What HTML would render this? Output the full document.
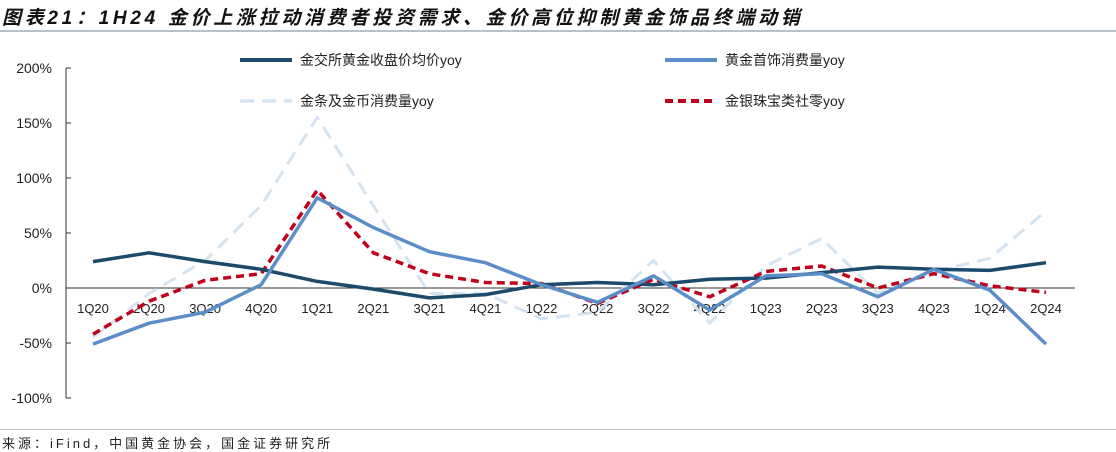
<!DOCTYPE html>
<html><head><meta charset="utf-8"><style>
body{margin:0;background:#fff;width:1116px;height:451px;overflow:hidden;font-family:"Liberation Sans","Noto Sans CJK SC",sans-serif;}
#title{position:absolute;left:2px;top:3px;font-size:19px;letter-spacing:3.7px;font-weight:bold;font-style:italic;color:#111;white-space:nowrap;}
#src{position:absolute;left:2px;top:433px;font-size:13px;color:#222;letter-spacing:3px;}
.hr{position:absolute;left:0;width:1116px;height:2px;background:#b8c0c8;}
</style></head><body>
<div id="title">图表21：1H24 金价上涨拉动消费者投资需求、金价高位抑制黄金饰品终端动销</div>
<div class="hr" style="top:30px"></div>
<div class="hr" style="top:429px;height:1px"></div>
<div id="src">来源：iFind，中国黄金协会，国金证券研究所</div>
<svg id="chart" width="1116" height="451" style="position:absolute;left:0;top:0"></svg>
<script>
const categories=["1Q20","2Q20","3Q20","4Q20","1Q21","2Q21","3Q21","4Q21","1Q22","2Q22","3Q22","4Q22","1Q23","2Q23","3Q23","4Q23","1Q24","2Q24"];
const sgeYoy=[24,32,24,17,6,-1,-9,-6,3,5,3,8,9,14,19,17,16,23];
const jewelryYoy=[-51,-32,-22,3,82,55,33,23,3,-13,11,-20,11,13,-8,17,-2,-51];
const barCoinYoy=[-45,-5,25,75,155,75,-5,-5,-28,-22,25,-32,20,45,-5,15,27,70];
const retailYoy=[-42,-12,7,13,89,32,13,5,4,-14,8,-8,15,20,0,13,2,-4];
const yTicks=[200,150,100,50,0,-50,-100];
const series=[
 {name:"金交所黄金收盘价均价yoy",data:sgeYoy,color:"#1d4a6b",dash:"",w:3.5,lx:240,ly:60,id:"sge"},
 {name:"黄金首饰消费量yoy",data:jewelryYoy,color:"#5b8ec8",dash:"",w:3.5,lx:665,ly:60,id:"jewelry"},
 {name:"金条及金币消费量yoy",data:barCoinYoy,color:"#d5e3f0",dash:"14,8",w:3,lx:240,ly:101,id:"barcoin"},
 {name:"金银珠宝类社零yoy",data:retailYoy,color:"#c0001a",dash:"8,5",w:3.5,lx:665,ly:101,id:"retail"}];
const svg=document.getElementById('chart');const NS="http://www.w3.org/2000/svg";
const X0=93,DX=(1046-93)/17;const x=i=>X0+i*DX;const y=v=>288-v*1.1;
function mk(t,a,p){const e=document.createElementNS(NS,t);for(const k in a)e.setAttribute(k,a[k]);(p||svg).appendChild(e);return e;}
const ax=mk('line',{x1:66,y1:y(200),x2:66,y2:y(-100),stroke:'#333','stroke-width':1});

yTicks.forEach(v=>{mk('line',{x1:66,y1:y(v),x2:71,y2:y(v),stroke:'#333'});
 const t=mk('text',{x:52,y:y(v)+5,'text-anchor':'end','font-size':14,fill:'#222'});t.textContent=v+'%';
 });
const xa=mk('line',{x1:66,y1:y(0),x2:1075,y2:y(0),stroke:'#333'});

categories.forEach((c,i)=>{const t=mk('text',{x:x(i),y:313,'text-anchor':'middle','font-size':13,fill:'#222'});t.textContent=c;
 });
[2,3,0,1].forEach(k=>{const s=series[k];
 const p=mk('polyline',{points:s.data.map((v,i)=>x(i)+','+y(v)).join(' '),fill:'none',stroke:s.color,'stroke-width':s.w,'stroke-dasharray':s.dash,'stroke-linejoin':'round'});
 });
series.forEach(s=>{const g=mk('g',{});
 mk('line',{x1:s.lx,y1:s.ly,x2:s.lx+52,y2:s.ly,stroke:s.color,'stroke-width':s.w+0.5,'stroke-dasharray':s.dash},g);
 const t=mk('text',{x:s.lx+60,y:s.ly+5,'font-size':14,fill:'#222'},g);t.textContent=s.name;});
</script></body></html>
